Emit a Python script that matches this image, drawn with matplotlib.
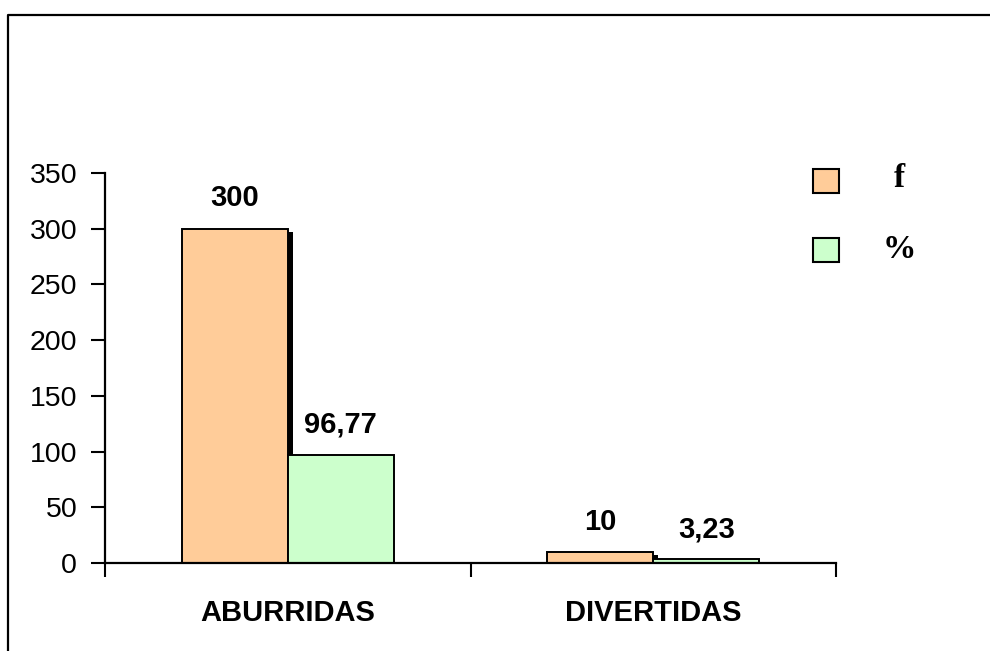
import matplotlib
matplotlib.use("Agg")
import matplotlib.pyplot as plt
import matplotlib.transforms as mtransforms
from matplotlib.patches import Rectangle
from matplotlib.lines import Line2D
import numpy as np

categories = ["ABURRIDAS", "DIVERTIDAS"]
series_names = ["f", "%"]
f_values = [300, 10]
pct_values = [96.77, 3.23]
f_labels = ["300", "10"]
pct_labels = ["96,77", "3,23"]
y_ticks = [0, 50, 100, 150, 200, 250, 300, 350]

W, H = 990, 651
fig = plt.figure(figsize=(W / 100, H / 100), dpi=100)
fig.patch.set_facecolor("white")

def fx(px):
    return px / W

def fy(py):
    return 1 - py / H

ax = fig.add_axes([fx(105), fy(563), fx(836) - fx(105), fy(173) - fy(563)])
ax.set_facecolor("none")

orange = "#FFCC99"
green = "#CCFFCC"
w = 0.29
x = np.arange(len(categories))

# shadow for orange bars
shadow_tr = ax.transData + mtransforms.ScaledTranslation(5 / 100, -3 / 100, fig.dpi_scale_trans)
ax.bar(x - w / 2, f_values, width=w, color="black", edgecolor="black", linewidth=0,
       transform=shadow_tr, zorder=1, clip_on=True)
ax.bar(x - w / 2, f_values, width=w, color=orange, edgecolor="black", linewidth=1.4, zorder=2)
ax.bar(x + w / 2, pct_values, width=w, color=green, edgecolor="black", linewidth=1.4, zorder=2)

lab_font = dict(family=["Liberation Sans", "DejaVu Sans"], fontsize=21, fontweight="bold")
for xi, v, s in zip(x - w / 2, f_values, f_labels):
    ax.annotate(s, (xi, v), xytext=(0, 16), textcoords="offset points",
                ha="center", va="baseline", **lab_font)
for xi, v, s in zip(x + w / 2, pct_values, pct_labels):
    ax.annotate(s, (xi, v), xytext=(0, 16), textcoords="offset points",
                ha="center", va="baseline", **lab_font)

ax.set_xlim(-0.5, len(categories) - 0.5)
ax.set_ylim(0, 350)
ax.set_yticks(y_ticks)
ax.set_yticklabels([str(t) for t in y_ticks], family=["Liberation Sans", "DejaVu Sans"], fontsize=20.5)
ax.tick_params(axis="y", direction="out", length=10, width=1.5, pad=10)

ax.set_xticks(np.arange(-0.5, len(categories)), minor=False)
ax.set_xticklabels([""] * len(np.arange(-0.5, len(categories))))
ax.tick_params(axis="x", which="major", direction="out", length=10, width=1.5)
ax.set_xticks(x, minor=True)
ax.set_xticklabels(categories, minor=True, **lab_font)
ax.tick_params(axis="x", which="minor", length=0, pad=26)

for s in ["top", "right"]:
    ax.spines[s].set_visible(False)
for s in ["left", "bottom"]:
    ax.spines[s].set_linewidth(1.6)

# legend drawn manually
leg_items = [(series_names[0], orange, 169, 178), (series_names[1], green, 238, 250)]
for name, col, ytop, ytxt in leg_items:
    fig.patches.append(Rectangle((fx(813), fy(ytop + 24)), fx(839) - fx(813), fy(ytop) - fy(ytop + 24),
                                 facecolor=col, edgecolor="black", linewidth=1.5,
                                 transform=fig.transFigure, figure=fig))
    fig.text(fx(899), fy(ytxt), name, ha="center", va="center",
             family=["Liberation Serif", "DejaVu Serif"], fontsize=24, fontweight="bold")

# outer border (top and left visible)
fig.lines.append(Line2D([fx(8), fx(8), 1.0], [0.0, fy(15), fy(15)], color="black", linewidth=1.6,
                        transform=fig.transFigure, figure=fig))

fig.savefig("out.png", dpi=100, facecolor="white")
